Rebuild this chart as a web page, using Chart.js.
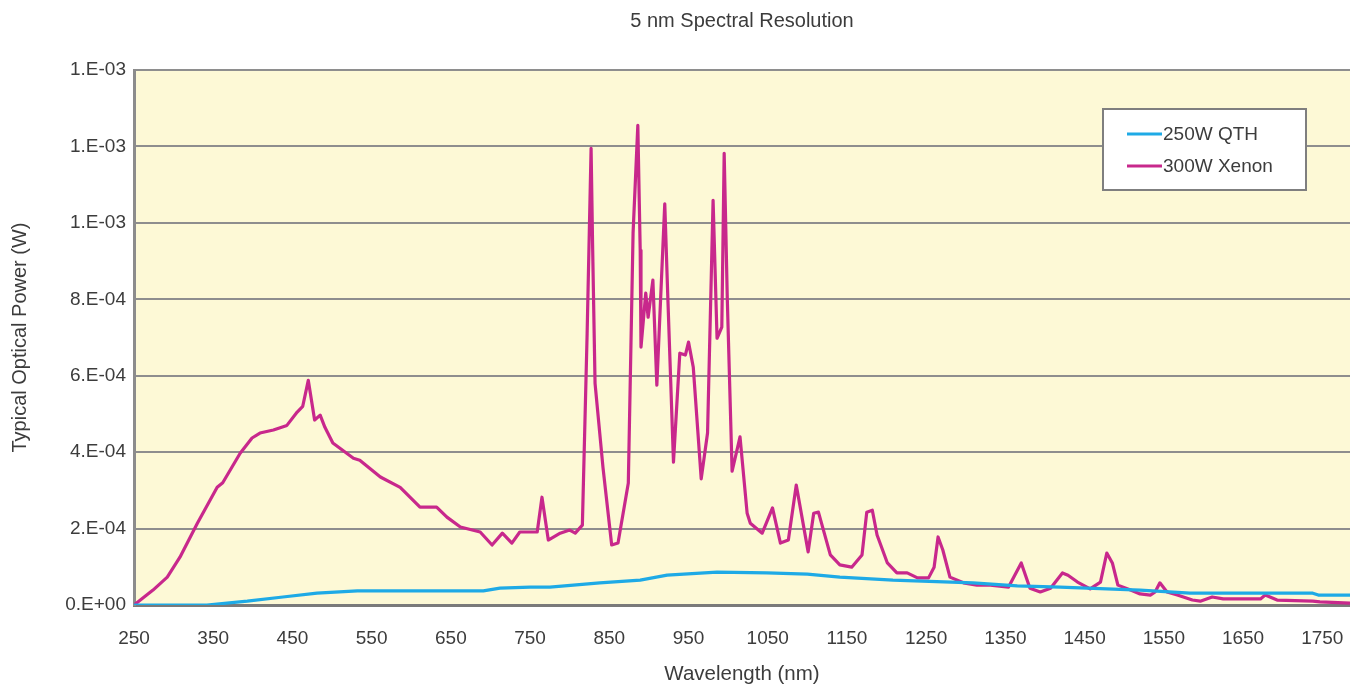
<!DOCTYPE html>
<html>
<head>
<meta charset="utf-8">
<title>5 nm Spectral Resolution</title>
<script src="https://cdn.jsdelivr.net/npm/chart.js@4.4.1/dist/chart.umd.min.js"></script>
<style>
  html, body { margin: 0; padding: 0; background: #ffffff; }
  #wrap { width: 1350px; height: 691px; position: relative; }
</style>
</head>
<body>
<div id="wrap"><canvas id="chart"></canvas></div>
<script>
// power values are in units of 1e-4 W
var powerUnit = 1e-4;

var xenonWavelengths = [250, 274, 292, 308, 330, 355, 362, 384, 399, 409, 426, 443, 456, 463, 470, 478, 485, 491, 501, 527,
  535, 561, 586, 611, 632, 645, 662, 687, 702, 715, 727, 737, 759, 765, 773, 788, 800, 807, 816, 822,
  827, 829, 832, 842, 853, 861, 874, 880, 886, 889, 890, 896, 899, 905, 910, 920, 924, 931, 939, 946,
  950, 956, 966, 974, 981, 986, 992, 995, 999, 1005, 1015, 1024, 1028, 1043, 1056, 1066, 1076, 1086, 1101, 1108,
  1114, 1129, 1141, 1156, 1169, 1175, 1182, 1188, 1201, 1213, 1226, 1239, 1253, 1260, 1265, 1271, 1280, 1297, 1314, 1331,
  1354, 1370, 1381, 1394, 1407, 1422, 1429, 1441, 1457, 1470, 1478, 1485, 1492, 1508, 1520, 1533, 1539, 1545, 1554, 1567,
  1586, 1596, 1611, 1625, 1672, 1678, 1693, 1738, 1747, 1785];
var xenonPower = [0, 0.39, 0.73, 1.25, 2.14, 3.08, 3.2, 3.97, 4.37, 4.5, 4.58, 4.7, 5.05, 5.2, 5.88, 4.84, 4.97, 4.65, 4.24, 3.84,
  3.79, 3.35, 3.08, 2.56, 2.56, 2.3, 2.04, 1.91, 1.57, 1.88, 1.62, 1.91, 1.91, 2.82, 1.7, 1.88, 1.96, 1.88, 2.09, 7.1,
  11.95, 9.3, 5.8, 3.6, 1.57, 1.62, 3.19, 9.73, 12.55, 9.28, 6.75, 8.16, 7.53, 8.5, 5.75, 10.5, 7.97, 3.74, 6.59, 6.54,
  6.88, 6.22, 3.3, 4.5, 10.59, 6.98, 7.27, 11.82, 7.97, 3.5, 4.4, 2.4, 2.14, 1.88, 2.54, 1.62, 1.7, 3.14, 1.39, 2.4,
  2.43, 1.31, 1.05, 0.99, 1.31, 2.43, 2.48, 1.83, 1.1, 0.84, 0.84, 0.71, 0.71, 0.99, 1.78, 1.44, 0.73, 0.58, 0.52, 0.52,
  0.47, 1.1, 0.44, 0.34, 0.44, 0.84, 0.78, 0.6, 0.42, 0.6, 1.36, 1.1, 0.52, 0.39, 0.29, 0.26, 0.34, 0.58, 0.34, 0.26,
  0.13, 0.1, 0.21, 0.16, 0.16, 0.26, 0.13, 0.1, 0.08, 0.05];

var qthWavelengths = [250, 342, 393, 438, 481, 532, 691, 712, 750, 775, 838, 889, 923, 986, 1049, 1100, 1141, 1208, 1309, 1365,
  1419, 1520, 1583, 1738, 1745, 1785];
var qthPower = [0, 0, 0.1, 0.21, 0.31, 0.37, 0.37, 0.44, 0.47, 0.47, 0.58, 0.65, 0.78, 0.86, 0.84, 0.81, 0.73, 0.65, 0.58, 0.5,
  0.47, 0.39, 0.31, 0.31, 0.26, 0.26];

var seriesNames = ["250W QTH", "300W Xenon"];
var chartTitle = "5 nm Spectral Resolution";
var xTicks = [250, 350, 450, 550, 650, 750, 850, 950, 1050, 1150, 1250, 1350, 1450, 1550, 1650, 1750];
var yTicks = [0, 2, 4, 6, 8, 10, 12, 14];
var yTickLabels = ["0.E+00", "2.E-04", "4.E-04", "6.E-04", "8.E-04", "1.E-03", "1.E-03", "1.E-03"];

var textColor = "#3c3c3c";
var fontFamily = "'Liberation Sans', Arial, sans-serif";

window.addEventListener('load', init);

function init() {
  Chart.defaults.font.family = fontFamily;
  Chart.defaults.color = textColor;

  new Chart(id("chart"), {
    type: 'line',
    data: {
      datasets: [
        {
          label: seriesNames[0],
          data: toPoints(qthWavelengths, qthPower),
          borderColor: "#1eaae6",
          borderWidth: 3.2
        },
        {
          label: seriesNames[1],
          data: toPoints(xenonWavelengths, xenonPower),
          borderColor: "#c8288c",
          borderWidth: 3.2
        }
      ]
    },
    options: {
      responsive: true,
      maintainAspectRatio: false,
      animation: false,
      devicePixelRatio: 1,
      layout: { padding: { top: 70, left: 0, right: 0, bottom: 0 } },
      elements: { point: { radius: 0 }, line: { tension: 0, borderJoinStyle: 'round' } },
      plugins: {
        legend: { display: false },
        tooltip: { enabled: false },
        title: { display: false }
      },
      scales: {
        x: {
          type: 'linear',
          min: 250,
          max: 1785,
          afterBuildTicks: function(scale) {
            scale.ticks = xTicks.map(function(v) { return {value: v}; });
          },
          afterFit: function(scale) {
            scale.height = 86;
            scale.paddingLeft = 0;
            scale.paddingRight = 0;
          },
          ticks: {
            autoSkip: false,
            maxRotation: 0,
            padding: 14,
            font: { size: 19 },
            color: textColor,
            callback: function(value) { return String(value); }
          },
          grid: { display: false },
          border: { display: true, color: "#7a7a7a", width: 3 },
          title: {
            display: true,
            text: "Wavelength (nm)",
            font: { size: 20.5 },
            color: textColor,
            padding: { top: 0, bottom: 4 }
          }
        },
        y: {
          type: 'linear',
          min: 0,
          max: 14 * powerUnit,
          afterBuildTicks: function(scale) {
            scale.ticks = yTicks.map(function(v) { return {value: v * powerUnit}; });
          },
          afterFit: function(scale) { scale.width = 134; },
          ticks: {
            padding: 8,
            font: { size: 19 },
            color: textColor,
            callback: function(value, index) { return yTickLabels[index]; }
          },
          grid: { color: "#8e8e8e", lineWidth: 2, drawTicks: false },
          border: { display: true, color: "#8c8c8c", width: 3 },
          title: {
            display: true,
            text: "Typical Optical Power (W)",
            font: { size: 20 },
            color: textColor,
            padding: { top: 8, bottom: 0 }
          }
        }
      }
    },
    plugins: [plotBackground, centeredTitle, boxLegend]
  });
}

function toPoints(xs, ys) {
  return xs.map(function(x, i) { return {x: x, y: ys[i] * powerUnit}; });
}

// pale yellow fill behind the plot area
var plotBackground = {
  id: 'plotBackground',
  beforeDraw: function(chart) {
    var a = chart.chartArea;
    var ctx = chart.ctx;
    ctx.save();
    ctx.fillStyle = "#fdf9d6";
    ctx.fillRect(a.left, a.top, a.right - a.left, a.bottom - a.top);
    ctx.restore();
  }
};

// title centred over the plot area rather than the whole canvas
var centeredTitle = {
  id: 'centeredTitle',
  afterDraw: function(chart) {
    var a = chart.chartArea;
    var ctx = chart.ctx;
    ctx.save();
    ctx.font = "20px " + fontFamily;
    ctx.fillStyle = textColor;
    ctx.textAlign = "center";
    ctx.textBaseline = "middle";
    ctx.fillText(chartTitle, (a.left + a.right) / 2, 21);
    ctx.restore();
  }
};

// boxed legend in the upper right of the plot
var boxLegend = {
  id: 'boxLegend',
  afterDraw: function(chart) {
    var ctx = chart.ctx;
    var left = 1103, top = 109, w = 203, h = 81;
    ctx.save();
    ctx.fillStyle = "#ffffff";
    ctx.fillRect(left, top, w, h);
    ctx.strokeStyle = "#7f7f7f";
    ctx.lineWidth = 2;
    ctx.strokeRect(left, top, w, h);
    ctx.font = "19px " + fontFamily;
    ctx.textBaseline = "middle";
    chart.data.datasets.forEach(function(ds, i) {
      var y = top + 25 + i * 32;
      ctx.strokeStyle = ds.borderColor;
      ctx.lineWidth = 3;
      ctx.beginPath();
      ctx.moveTo(left + 24, y);
      ctx.lineTo(left + 59, y);
      ctx.stroke();
      ctx.fillStyle = textColor;
      ctx.fillText(ds.label, left + 60, y + 1);
    });
    ctx.restore();
  }
};

/**
   * retrieves an HTML element by ID
   * @param {String} id - the id tag for an element in the HTML
   * @returns {Node} - the element from the HTML document
   */
function id(id) {
  return document.getElementById(id);
}
</script>
</body>
</html>
